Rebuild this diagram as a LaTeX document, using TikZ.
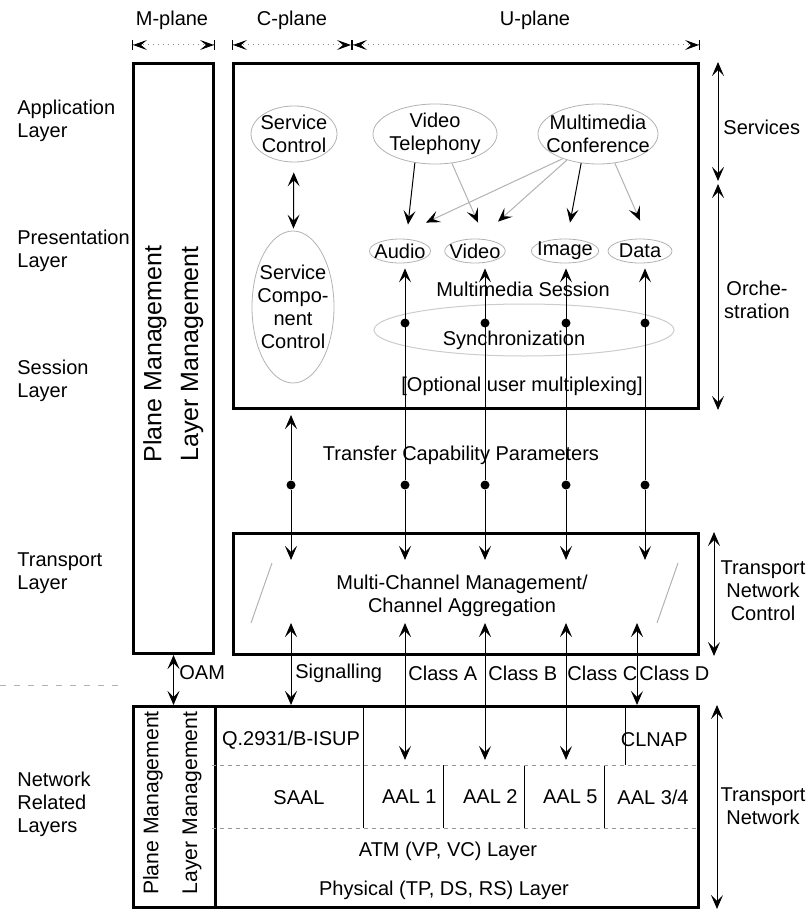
\documentclass[tikz,border=0pt]{standalone}
\usepackage{fontspec}
\setmainfont{Liberation Sans}
\usetikzlibrary{arrows.meta,shapes.geometric}

\begin{document}
\begin{tikzpicture}[x=0.5pt,y=-0.5pt,
  >={Stealth[length=7pt,width=6pt,inset=3pt]},
  every node/.style={font=\fontsize{10}{11.5}\selectfont,align=center,inner sep=1pt},
  bigbox/.style={draw,line width=1.5pt,anchor=north west,inner sep=0pt},
  oval/.style={ellipse,draw=black!30,line width=0.4pt,inner sep=-6pt},
  small oval/.style={ellipse,draw=black!30,line width=0.4pt,inner sep=-2pt,minimum height=12pt},
  layer/.style={anchor=west,align=left},
  mgmt/.style={rotate=90,font=\fontsize{12.5}{14}\selectfont},
  small mgmt/.style={rotate=90,font=\fontsize{10.6}{12}\selectfont},
  chan/.style={line width=0.5pt},
  faint/.style={draw=black!30,line width=0.5pt},
  faint arrow/.style={draw=black!30,line width=0.5pt,-{Stealth[length=7pt,width=6pt,inset=3pt,color=black]}},
  dot/.style={circle,fill,inner sep=0pt,minimum size=4.5pt},
  dim/.style={draw=black!45,line width=0.5pt,dotted,
    arrows={{Bar[width=5pt,color=black]Stealth[length=7pt,width=5pt,inset=3pt,color=black]}-{Stealth[length=7pt,width=5pt,inset=3pt,color=black]Bar[width=5pt,color=black]}}}]
\useasboundingbox (0,0) rectangle (811,909);

\coordinate (dimy) at (0,45);
\coordinate (cusplit) at (352,45);
\coordinate (dn) at (0,560);
\coordinate (up) at (0,623);
\coordinate (aal) at (0,760);

\node (mpl) at (172,20) {M-plane};
\node (cpl) at (292,20) {C-plane};
\node (upl) at (535,20) {U-plane};

\node[layer] (app) at (15,121) {Application\\Layer};
\node[layer] (pres) at (15,251) {Presentation\\Layer};
\node[layer] (sess) at (15,381) {Session\\Layer};
\node[layer] (trl) at (15,573) {Transport\\Layer};
\node[layer] (netl) at (15,804) {Network\\Related\\Layers};
\draw[black!30,dash pattern=on 3pt off 4pt] (0,685) -- (125,685);

\node[bigbox,minimum width=40pt,minimum height=295pt] (mcol) at (132,62) {};
\node[bigbox,minimum width=232.5pt,minimum height=172.5pt] (cu) at (232,62) {};
\node[bigbox,minimum width=232.5pt,minimum height=60.5pt] (tr) at (232,532) {};
\node[bigbox,minimum width=282.5pt,minimum height=100.5pt] (nb) at (132,705) {};
\draw[line width=1.5pt] (mcol.east |- nb.north) -- (mcol.east |- nb.south);

\draw[dim] (mcol.north west |- dimy) -- (mcol.north east |- dimy);
\draw[dim] (cu.north west |- dimy) -- (cusplit);
\draw[dim] (cusplit) -- (cu.north east |- dimy);

\node[mgmt] (pm1) at (155,354) {Plane Management};
\node[mgmt] (lm1) at (192,354) {Layer Management};
\node[small mgmt] (pm2) at (153,803) {Plane Management};
\node[small mgmt] (lm2) at (192,803) {Layer Management};

\node[oval,minimum width=43pt,minimum height=28pt] (sc) at (294,134) {Service\\Control};
\node[oval,minimum width=62pt,minimum height=30pt] (vt) at (435,134) {Video\\Telephony};
\node[oval,minimum width=60pt,minimum height=30pt] (mconf) at (598,134) {Multimedia\\Conference};
\node[small oval,minimum width=25pt] (au) at (400,251) {Audio};
\node[small oval,minimum width=29pt] (vi) at (475,251) {Video};
\node[small oval,minimum width=29pt] (im) at (565,251) {Image};
\node[small oval,minimum width=32pt] (da) at (640,251) {Data};
\node[oval,minimum width=41pt,minimum height=76pt] (scc) at (293,307) {Service\\Compo-\\nent\\Control};
\node (mms) at (523,289) {Multimedia Session};
\draw[faint,draw=black!20] (524,330) ellipse [x radius=75pt,y radius=13pt];
\node (sync) at (514,340) {Synchronization};
\node (opt) at (522,386) {[Optional user multiplexing]};
\node (tcp) at (461,455) {Transfer Capability Parameters};

\draw[<->,chan,shorten <=5pt,shorten >=1pt] (sc) -- (scc);
\draw[->,chan] (vt.235) -- ([shift={(4pt,7pt)}]au.north);
\draw[faint arrow] (mconf.215) -- ([shift={(13pt,8pt)}]au.north);
\draw[faint arrow] (vt.300) -- ([shift={(1.5pt,8pt)}]vi.north);
\draw[faint arrow] (mconf.220) -- ([shift={(11.5pt,8.5pt)}]vi.north);
\draw[->,chan] (mconf.240) -- ([shift={(2.5pt,8pt)}]im.north);
\draw[faint arrow] (mconf.300) -- ([shift={(0pt,9pt)}]da.north);

\node[dot] (yA) at (405,323) {};
\node[dot] (yB) at (485,323) {};
\node[dot] (yC) at (566,323) {};
\node[dot] (yD) at (645,323) {};
\node[dot] (tS) at (291,485) {};
\node[dot] (tA) at (405,485) {};
\node[dot] (tB) at (485,485) {};
\node[dot] (tC) at (566,485) {};
\node[dot] (tD) at (645,485) {};

\draw[->,chan,shorten >=2.5pt] (tS) -- (tS |- cu.south);
\draw[->,chan,shorten >=2.5pt] (tA) -- (tA |- au.south);
\draw[->,chan,shorten >=2.5pt] (tB) -- (tB |- vi.south);
\draw[->,chan,shorten >=2.5pt] (tC) -- (tC |- im.south);
\draw[->,chan,shorten >=2.5pt] (tD) -- (tD |- da.south);
\draw[->,chan] (tS) -- (tS |- dn);
\draw[->,chan] (tA) -- (tA |- dn);
\draw[->,chan] (tB) -- (tB |- dn);
\draw[->,chan] (tC) -- (tC |- dn);
\draw[->,chan] (tD) -- (tD |- dn);

\node (mcm) at (462,596) {Multi-Channel Management/\\Channel Aggregation};
\draw[faint] (251,623) -- (272,563);
\draw[faint] (657,623) -- (678,563);

\coordinate (cD) at (637,623);
\draw[<->,chan] (tS |- up) -- (tS |- nb.north);
\draw[<->,chan] (tA |- up) -- (tA |- aal);
\draw[<->,chan] (tB |- up) -- (tB |- aal);
\draw[<->,chan] (tC |- up) -- (tC |- aal);
\draw[<->,chan] (cD) -- (cD |- nb.north);
\draw[<->,chan] (mcol.south) -- (mcol.south |- nb.north);

\node[anchor=west] (oam) at (177,673) {OAM};
\node[anchor=west] (sig) at (293,673) {Signalling};
\node[anchor=west] (cla) at (406,673) {Class A};
\node[anchor=west] (clb) at (486,673) {Class B};
\node[anchor=west] (clc) at (565,673) {Class C};
\node[anchor=west] (cld) at (637,673) {Class D};

\draw[chan] (363,705) -- (363,828);
\draw[chan] (625,705) -- (625,765);
\draw[chan] (443,765) -- (443,828);
\draw[chan] (524,765) -- (524,828);
\draw[chan] (604,765) -- (604,828);
\draw[black!40,line width=0.5pt,dash pattern=on 2pt off 2pt] (212,765) -- (697,765);
\draw[black!40,line width=0.5pt,dash pattern=on 2pt off 2pt] (212,828) -- (697,828);

\node (q2931) at (291,740) {Q.2931/B-ISUP};
\node[anchor=east] (clnap) at (690,740) {CLNAP};
\node (saal) at (299,798) {SAAL};
\node[anchor=east] (aal1) at (439,797) {AAL 1};
\node[anchor=east] (aal2) at (520,797) {AAL 2};
\node[anchor=east] (aal5) at (600,797) {AAL 5};
\node[anchor=east] (aal34) at (691,797) {AAL 3/4};
\node (atm) at (448,851) {ATM (VP, VC) Layer};
\node (phy) at (444,890) {Physical (TP, DS, RS) Layer};

\coordinate (sv) at (718,181);
\coordinate (orc) at (718,184);
\coordinate (tnc) at (714,0);
\coordinate (tnx) at (717,0);
\draw[<->,chan] (sv |- cu.north) -- (sv);
\draw[<->,chan] (orc) -- (orc |- cu.south);
\draw[<->,chan] (tnc |- tr.north) -- (tnc |- tr.south);
\draw[<->,chan] (tnx |- nb.north) -- (tnx |- nb.south);

\node[anchor=west] (svc) at (721,127) {Services};
\node (orch) at (757,300) {Orche-\\stration};
\node (tnctl) at (763,591) {Transport\\Network\\Control};
\node (tnet) at (763,806) {Transport\\Network};

\end{tikzpicture}
\end{document}
